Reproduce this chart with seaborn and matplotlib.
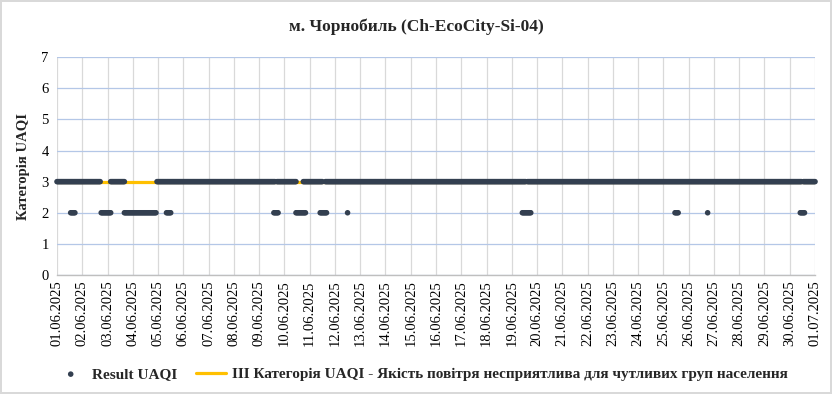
import matplotlib
matplotlib.use("Agg")
import matplotlib.pyplot as plt
import matplotlib.dates as mdates
import seaborn as sns
import pandas as pd

# періоди, коли UAQI = 2 (погодинні виміри, включно)
level2_runs = [
    ("2025-06-01 13:00", "2025-06-01 17:00"),
    ("2025-06-02 18:00", "2025-06-03 03:00"),
    ("2025-06-03 16:00", "2025-06-04 22:00"),
    ("2025-06-05 08:00", "2025-06-05 12:00"),
    ("2025-06-09 14:00", "2025-06-09 18:00"),
    ("2025-06-10 11:00", "2025-06-10 20:00"),
    ("2025-06-11 10:00", "2025-06-11 16:00"),
    ("2025-06-12 12:00", "2025-06-12 12:00"),
    ("2025-06-19 10:00", "2025-06-19 18:00"),
    ("2025-06-25 11:00", "2025-06-25 14:00"),
    ("2025-06-26 18:00", "2025-06-26 18:00"),
    ("2025-06-30 10:00", "2025-06-30 14:00"),
]
# періоди без значення UAQI = 3
level3_gaps = [
    ("2025-06-02 18:00", "2025-06-03 02:00"),
    ("2025-06-03 17:00", "2025-06-04 22:00"),
    ("2025-06-09 16:00", "2025-06-09 16:00"),
    ("2025-06-10 12:00", "2025-06-10 17:00"),
    ("2025-06-11 13:00", "2025-06-11 14:00"),
    ("2025-06-19 14:00", "2025-06-19 14:00"),
    ("2025-06-30 12:00", "2025-06-30 12:00"),
]
period_start = "2025-06-01 00:00"
period_end = "2025-07-01 00:00"
threshold_value = 3  # III категорія UAQI

title = "м. Чорнобиль (Ch-EcoCity-Si-04)"
ylabel = "Категорія UAQI"
series_label = "Result UAQI"
threshold_label = "III Категорія UAQI - Якість повітря несприятлива для чутливих груп населення"
dot_color = "#333F50"

# --- збір даних ---
hours = pd.date_range(period_start, period_end, freq="h")
in_gap = pd.Series(False, index=hours)
for s, e in level3_gaps:
    in_gap[(hours >= s) & (hours <= e)] = True
t3 = hours[~in_gap.values]
t2 = pd.DatetimeIndex([])
for s, e in level2_runs:
    t2 = t2.append(pd.date_range(s, e, freq="h"))

df = pd.concat([
    pd.DataFrame({"time": t3, "uaqi": 3}),
    pd.DataFrame({"time": t2, "uaqi": 2}),
]).sort_values("time")
thr = pd.DataFrame({"time": pd.to_datetime([period_start, period_end]),
                    "uaqi": [threshold_value, threshold_value]})

sns.set_theme(style="white")
plt.rcParams["font.family"] = ["Liberation Serif", "DejaVu Serif"]
plt.rcParams["axes.unicode_minus"] = False

fig = plt.figure(figsize=(8.32, 3.94), dpi=100, edgecolor="#D9D9D9", linewidth=1.5)
ax = fig.add_axes([0.0685, 0.302, 0.9111, 0.553])

sns.lineplot(data=thr, x="time", y="uaqi", ax=ax, color="#FFC000", linewidth=2.3,
             label=threshold_label, zorder=2)
sns.scatterplot(data=df, x="time", y="uaqi", ax=ax, color=dot_color, s=16,
                linewidth=0, marker="o", label=series_label, zorder=3,
                clip_on=False)
# окремі кольори на кожну точку -> без прив'язки маркерів до пікселів
dots = ax.collections[-1]
dots.set_facecolor([dot_color] * len(df))

ax.set_xlim(pd.Timestamp(period_start), pd.Timestamp(period_end))
ax.set_ylim(0, 7)
ax.set_yticks(range(0, 8))
ax.xaxis.set_major_locator(mdates.DayLocator())
ax.xaxis.set_major_formatter(mdates.DateFormatter("%d.%m.%Y"))
ax.tick_params(axis="x", rotation=90, labelsize=10.5, length=0, pad=4, colors="#000000")
ax.tick_params(axis="y", labelsize=10.5, length=0, pad=6, colors="#000000")

ax.grid(axis="x", color="#D9D9D9", linewidth=0.9)
ax.grid(axis="y", color="#B4C7E7", linewidth=0.9)
ax.set_axisbelow(True)
for side in ["top", "right", "left"]:
    ax.spines[side].set_visible(False)
ax.spines["bottom"].set_color("#BFBFBF")
ax.spines["bottom"].set_linewidth(1)

ax.set_xlabel("")
ax.set_ylabel(ylabel, fontsize=10.5, fontweight="bold", labelpad=8)

fig.text(0.5, 0.932, title, ha="center", va="center", fontsize=12.5, fontweight="bold")

handles, labels = ax.get_legend_handles_labels()
order = [labels.index(series_label), labels.index(threshold_label)]
ax.get_legend().remove()
fig.legend([handles[i] for i in order], [labels[i] for i in order],
           loc="center", bbox_to_anchor=(0.507, 0.05), ncol=2, frameon=False,
           prop={"weight": "bold", "size": 11}, handlelength=2.0,
           columnspacing=1.2, handletextpad=0.4, markerscale=1.0)

fig.savefig("out.png", dpi=100)
